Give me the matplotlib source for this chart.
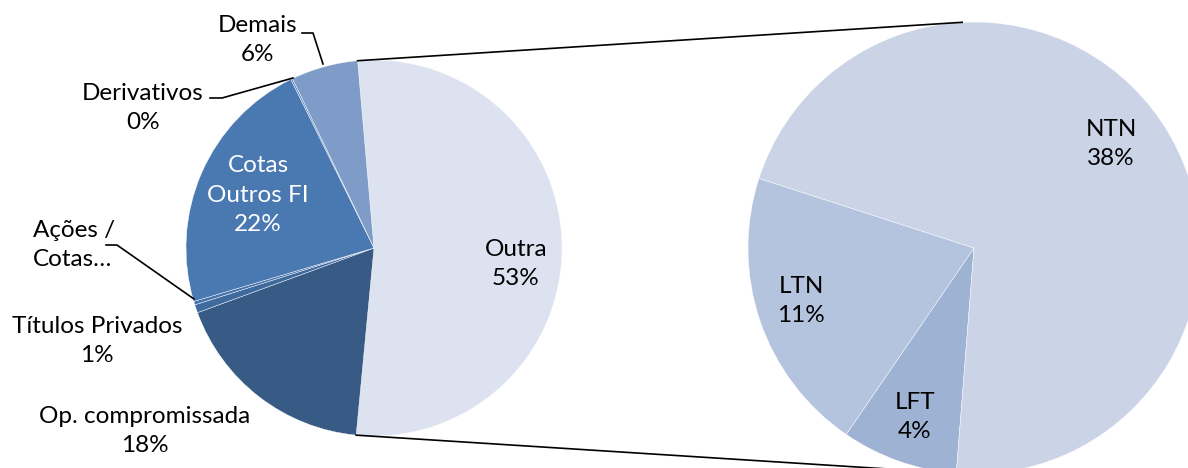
import numpy as np
import matplotlib.pyplot as plt

plt.rcParams['font.family'] = ['Lato', 'DejaVu Sans']

# left pie (clockwise from the split-out slice)
labels1 = ['Outra', 'Op. compromissada', 'Títulos Privados', 'Ações /\nCotas…',
           'Cotas\nOutros FI', 'Derivativos', 'Demais']
values1 = [52.9, 17.9, 0.7, 0.3, 22.3, 0.15, 5.75]
pct1 = ['53%', '18%', '1%', '', '22%', '0%', '6%']
colors1 = ['#DCE2EF', '#375B85', '#3F6A9E', '#4673AC', '#4A79B2', '#6288C0', '#7F9CC9']

# right pie: breakdown of "Outra"
labels2 = ['LFT', 'LTN', 'NTN']
values2 = [4.4, 10.8, 37.7]
colors2 = ['#9EB2D3', '#B4C3DE', '#CAD4E6']

W, H = 1188, 468
fig = plt.figure(figsize=(W / 100, H / 100), dpi=100)
ax = fig.add_axes([0, 0, 1, 1])

c1, r1 = (374, 220), 188
c2, r2 = (974, 220), 226
start1 = 95

ax.pie(values1, colors=colors1, startangle=start1, counterclock=False,
       center=c1, radius=r1, frame=True,
       wedgeprops=dict(edgecolor='white', linewidth=0.3))
ax.pie(values2, colors=colors2, startangle=265.5, counterclock=False,
       center=c2, radius=r2, frame=True,
       wedgeprops=dict(edgecolor='white', linewidth=0.3))
ax.set_xlim(0, W)
ax.set_ylim(0, H)
ax.set_aspect('equal')
ax.axis('off')

fs = 17.5
ls = 1.52
def txt(x, y, s, color='black'):
    ax.text(x, H - y, s, ha='center', va='center', fontsize=fs, color=color,
            linespacing=ls)

# connector lines between the pies
a_top = np.radians(start1)
a_bot = np.radians(start1 - values1[0] * 3.6)
p_top = (c1[0] + r1 * np.cos(a_top), c1[1] + r1 * np.sin(a_top))
p_bot = (c1[0] + r1 * np.cos(a_bot), c1[1] + r1 * np.sin(a_bot))
q_top = (c2[0] + r2 * np.cos(np.radians(93)), c2[1] + r2 * np.sin(np.radians(93)))
q_bot = (c2[0] + r2 * np.cos(np.radians(266)), c2[1] + r2 * np.sin(np.radians(266)))
ax.plot([p_top[0], q_top[0]], [p_top[1], q_top[1]], color='black', lw=1.2)
ax.plot([p_bot[0], q_bot[0]], [p_bot[1], q_bot[1]], color='black', lw=1.2)

# data labels
txt(516, 264, labels1[0] + '\n' + pct1[0])
txt(145, 431, labels1[1] + '\n' + pct1[1])
txt(97, 341, labels1[2] + '\n' + pct1[2])
ax.text(33, H - 245, labels1[3], ha='left', va='center', fontsize=fs, linespacing=ls)
txt(258, 195, labels1[4] + '\n' + pct1[4], color='white')
txt(143, 108, labels1[5] + '\n' + pct1[5])
txt(258, 40, labels1[6] + '\n' + pct1[6])

for lab, v, xy in zip(labels2, values2, [(915, 417), (801, 301), (1111, 144)]):
    txt(xy[0], xy[1], '%s\n%d%%' % (lab, round(v)))

# leader lines
def leader(pts):
    ax.plot([p[0] for p in pts], [H - p[1] for p in pts], color='black', lw=1.2)

leader([(302, 33), (313, 33), (323, 64)])
leader([(210, 98), (222, 98), (293, 78)])
leader([(106, 245), (117, 245), (194, 299)])

fig.savefig('out.png', dpi=100)
